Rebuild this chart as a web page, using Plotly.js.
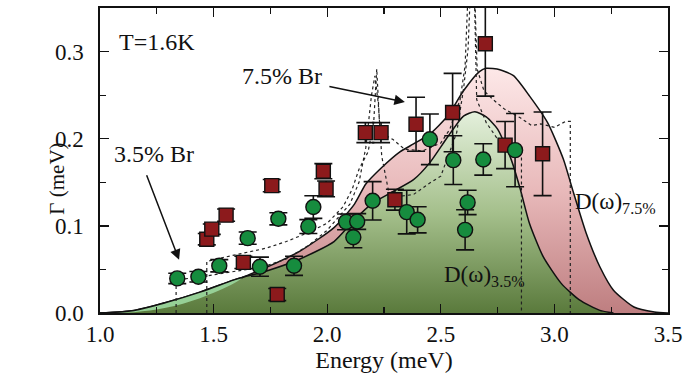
<!DOCTYPE html>
<html>
<head>
<meta charset="utf-8">
<script src="https://cdn.plot.ly/plotly-3.0.1.min.js"></script>
<style>html,body{margin:0;padding:0;background:#fff}#chart{width:695px;height:375px}</style>
</head>
<body>
<div id="chart"></div>
<script>
// ---- data ----
// 7.5% Br measured linewidths (red squares)
const redE   = [1.470, 1.492, 1.555, 1.631, 1.756, 1.780, 1.983, 1.995, 2.168, 2.237, 2.298, 2.391, 2.552, 2.696, 2.783, 2.948];
const redG   = [0.0847, 0.0962, 0.1123, 0.0581, 0.1462, 0.0212, 0.1627, 0.1424, 0.2070, 0.2070, 0.1300, 0.2166, 0.2300, 0.3089, 0.1927, 0.1827];
const redErr = [0.0065, 0.006, 0.007, 0.007, 0.007, 0.007, 0.0087, 0.009, 0.0115, 0.0115, 0.012, 0.031, 0.045, 0.060, 0.027, 0.048];
// 3.5% Br measured linewidths (green circles)
const grnE   = [1.340, 1.433, 1.525, 1.650, 1.704, 1.785, 1.854, 1.917, 1.939, 2.083, 2.132, 2.115, 2.200, 2.350, 2.398, 2.452, 2.555, 2.618, 2.607, 2.687, 2.827];
const grnG   = [0.0397, 0.0416, 0.0542, 0.0859, 0.0531, 0.1081, 0.0542, 0.0992, 0.1216, 0.1046, 0.1050, 0.0869, 0.1288, 0.1158, 0.1070, 0.1993, 0.1754, 0.1269, 0.0954, 0.1762, 0.1869];
const grnErr = [0.006, 0.006, 0.007, 0.007, 0.011, 0.007, 0.011, 0.008, 0.013, 0.009, 0.009, 0.012, 0.022, 0.025, 0.015, 0.029, 0.028, 0.014, 0.023, 0.018, 0.042];
// D(omega) 7.5%
const dos75E = [1.00, 1.15, 1.29, 1.44, 1.59, 1.63, 1.73, 1.88, 2.03, 2.12, 2.17, 2.24, 2.32, 2.38, 2.45, 2.53, 2.60, 2.67, 2.70, 2.76, 2.82, 2.89, 2.97, 3.04, 3.08, 3.14, 3.20, 3.26, 3.35, 3.44, 3.50];
const dos75G = [0.000, 0.001, 0.006, 0.017, 0.034, 0.041, 0.052, 0.071, 0.098, 0.125, 0.148, 0.167, 0.185, 0.194, 0.205, 0.226, 0.255, 0.277, 0.2808, 0.2792, 0.2723, 0.2492, 0.2185, 0.1762, 0.1416, 0.0916, 0.0531, 0.0262, 0.0069, 0.0012, 0.000];
// D(omega) 3.5%
const dos35E = [1.00, 1.15, 1.29, 1.44, 1.59, 1.63, 1.73, 1.88, 2.03, 2.12, 2.20, 2.28, 2.38, 2.45, 2.53, 2.60, 2.65, 2.70, 2.75, 2.81, 2.85, 2.89, 2.95, 3.03, 3.11, 3.20, 3.26];
const dos35G = [0.000, 0.003, 0.012, 0.024, 0.038, 0.041, 0.048, 0.062, 0.082, 0.107, 0.126, 0.138, 0.153, 0.172, 0.202, 0.226, 0.231, 0.225, 0.211, 0.176, 0.142, 0.103, 0.065, 0.034, 0.015, 0.003, 0.000];
// dotted model curves
const mod75E = [1.47, 1.47, 1.53, 1.59, 1.73, 1.82, 1.91, 2.00, 2.07, 2.11, 2.14, 2.18, 2.205, 2.218, 2.23, 2.25, 2.29, 2.34, 2.42, 2.50, 2.54, 2.585, 2.607, 2.625, 2.645, 2.66, 2.69, 2.73, 2.78, 2.85, 2.90, 2.94, 3.00, 3.05, 3.07, 3.07];
const mod75G = [0.000, 0.059, 0.063, 0.0666, 0.0743, 0.082, 0.0916, 0.103, 0.122, 0.142, 0.165, 0.185, 0.220, 0.280, 0.220, 0.205, 0.199, 0.188, 0.186, 0.195, 0.211, 0.245, 0.284, 0.400, 0.400, 0.280, 0.255, 0.245, 0.234, 0.224, 0.215, 0.217, 0.213, 0.220, 0.220, 0.000];
const mod35E = [1.335, 1.335, 1.40, 1.46, 1.55, 1.65, 1.72, 1.82, 1.92, 2.00, 2.05, 2.10, 2.14, 2.17, 2.195, 2.21, 2.225, 2.24, 2.27, 2.32, 2.38, 2.45, 2.50, 2.526, 2.57, 2.60, 2.62, 2.635, 2.645, 2.658, 2.70, 2.746, 2.78, 2.82, 2.855, 2.855];
const mod35G = [0.000, 0.038, 0.040, 0.042, 0.046, 0.050, 0.053, 0.062, 0.078, 0.095, 0.110, 0.125, 0.150, 0.190, 0.250, 0.272, 0.240, 0.180, 0.140, 0.134, 0.136, 0.149, 0.157, 0.176, 0.207, 0.257, 0.303, 0.400, 0.400, 0.245, 0.2185, 0.201, 0.195, 0.190, 0.182, 0.000];
// axis ticks
const xTicks = [1.0, 1.5, 2.0, 2.5, 3.0, 3.5];
const xTickText = ['1.0', '1.5', '2.0', '2.5', '3.0', '3.5'];
const yTicks = [0.0, 0.1, 0.2, 0.3];
const yTickText = ['0.0', '0.1', '0.2', '0.3'];

const serif = 'Liberation Serif, Times New Roman, serif';

// low-energy part where the 3.5% curve is above the 7.5% curve
const crossE = 1.63;
const sliverLoE = dos75E.filter(e => e <= crossE), sliverLoG = dos75G.slice(0, sliverLoE.length);
const sliverHiE = dos35E.filter(e => e <= crossE), sliverHiG = dos35G.slice(0, sliverHiE.length);

const traces = [
  { x: dos75E, y: dos75G, mode: 'lines', fill: 'tozeroy', line: {color: '#111', width: 1.5, shape: 'spline', smoothing: 0.6},
    fillgradient: {type: 'vertical', colorscale: [[0, 'rgb(190,126,128)'], [0.5, 'rgb(232,185,186)'], [1, 'rgb(253,232,232)']]},
    hoverinfo: 'skip', showlegend: false },
  { x: dos35E, y: dos35G, mode: 'lines', fill: 'tozeroy', line: {color: '#111', width: 1.5, shape: 'spline', smoothing: 0.6},
    fillgradient: {type: 'vertical', colorscale: [[0, 'rgb(90,122,60)'], [0.5, 'rgb(165,192,140)'], [1, 'rgb(228,240,220)']]},
    hoverinfo: 'skip', showlegend: false },
  { x: sliverLoE, y: sliverLoG, mode: 'lines', line: {color: 'rgba(0,0,0,0)', width: 0, shape: 'spline'}, hoverinfo: 'skip', showlegend: false },
  { x: sliverHiE, y: sliverHiG, mode: 'lines', fill: 'tonexty', fillcolor: 'rgb(150,208,150)',
    line: {color: '#111', width: 1.5, shape: 'spline'}, hoverinfo: 'skip', showlegend: false },
  { x: mod35E, y: mod35G, mode: 'lines', line: {color: '#222', width: 1.2, dash: 'dot'}, hoverinfo: 'skip', showlegend: false },
  { x: mod75E, y: mod75G, mode: 'lines', line: {color: '#222', width: 1.2, dash: 'dot'}, hoverinfo: 'skip', showlegend: false },
  { x: redE, y: redG, mode: 'markers', type: 'scatter',
    error_y: {type: 'data', array: redErr, visible: true, color: '#111', thickness: 1.6, width: 9},
    marker: {symbol: 'square', size: 14, color: 'rgb(140,26,28)', line: {color: '#111', width: 1.4}}, showlegend: false },
  { x: grnE, y: grnG, mode: 'markers', type: 'scatter',
    error_y: {type: 'data', array: grnErr, visible: true, color: '#111', thickness: 1.6, width: 9},
    marker: {symbol: 'circle', size: 15, color: 'rgb(22,140,62)', line: {color: '#111', width: 1.4}}, showlegend: false }
];

const layout = {
  width: 695, height: 375,
  margin: {l: 100, r: 27, t: 8, b: 62},
  paper_bgcolor: '#fff', plot_bgcolor: '#fff',
  font: {family: serif, color: '#111', size: 24},
  xaxis: {
    range: [1.0, 3.5], tickvals: xTicks, ticktext: xTickText,
    ticks: 'inside', ticklen: 9, tickwidth: 1.3, tickcolor: '#111',
    minor: {dtick: 0.25, tick0: 1.0, ticks: 'inside', ticklen: 6, tickwidth: 1.2, tickcolor: '#111'},
    showline: true, linecolor: '#111', linewidth: 1.6, mirror: 'ticks',
    showgrid: false, zeroline: false,
    tickfont: {family: serif, size: 23, color: '#111'},
    title: {text: 'Energy (meV)', font: {family: serif, size: 24, color: '#111'}, standoff: 2}
  },
  yaxis: {
    range: [0, 0.35], tickvals: yTicks, ticktext: yTickText,
    ticks: 'inside', ticklen: 9, tickwidth: 1.3, tickcolor: '#111',
    minor: {dtick: 0.05, tick0: 0, ticks: 'inside', ticklen: 6, tickwidth: 1.2, tickcolor: '#111'},
    showline: true, linecolor: '#111', linewidth: 1.6, mirror: 'ticks',
    showgrid: false, zeroline: false,
    tickfont: {family: serif, size: 23, color: '#111'},
    ticklabelstandoff: 10
  },
  annotations: [
    {x: -0.076, y: 0.44, xref: 'paper', yref: 'paper', text: 'Γ (meV)', textangle: -90, showarrow: false, xanchor: 'center', yanchor: 'middle', font: {family: serif, size: 21, color: '#111'}},
    {x: 1.075, y: 0.311, xref: 'x', yref: 'y', text: 'T=1.6K', showarrow: false, xanchor: 'left', yanchor: 'middle', font: {family: serif, size: 24, color: '#111'}},
    {x: 1.616, y: 0.272, xref: 'x', yref: 'y', text: '7.5% Br', showarrow: false, xanchor: 'left', yanchor: 'middle', font: {family: serif, size: 24, color: '#111'}},
    {x: 1.053, y: 0.182, xref: 'x', yref: 'y', text: '3.5% Br', showarrow: false, xanchor: 'left', yanchor: 'middle', font: {family: serif, size: 24, color: '#111'}},
    {x: 2.342, y: 0.242, xref: 'x', yref: 'y', text: '', showarrow: true, ax: -77, ay: -16, arrowhead: 2, arrowsize: 1.4, arrowwidth: 1.5, arrowcolor: '#111'},
    {x: 1.348, y: 0.061, xref: 'x', yref: 'y', text: '', showarrow: true, ax: -33, ay: -86, arrowhead: 2, arrowsize: 1.4, arrowwidth: 1.5, arrowcolor: '#111'},
    {x: 3.082, y: 0.126, xref: 'x', yref: 'y', text: 'D(ω)<sub>7.5%</sub>', showarrow: false, xanchor: 'left', yanchor: 'middle', font: {family: serif, size: 23, color: '#111'}},
    {x: 2.505, y: 0.043, xref: 'x', yref: 'y', text: 'D(ω)<sub>3.5%</sub>', showarrow: false, xanchor: 'left', yanchor: 'middle', font: {family: serif, size: 23, color: '#111'}}
  ]
};

Plotly.newPlot('chart', traces, layout, {staticPlot: true, displayModeBar: false});
</script>
</body>
</html>
